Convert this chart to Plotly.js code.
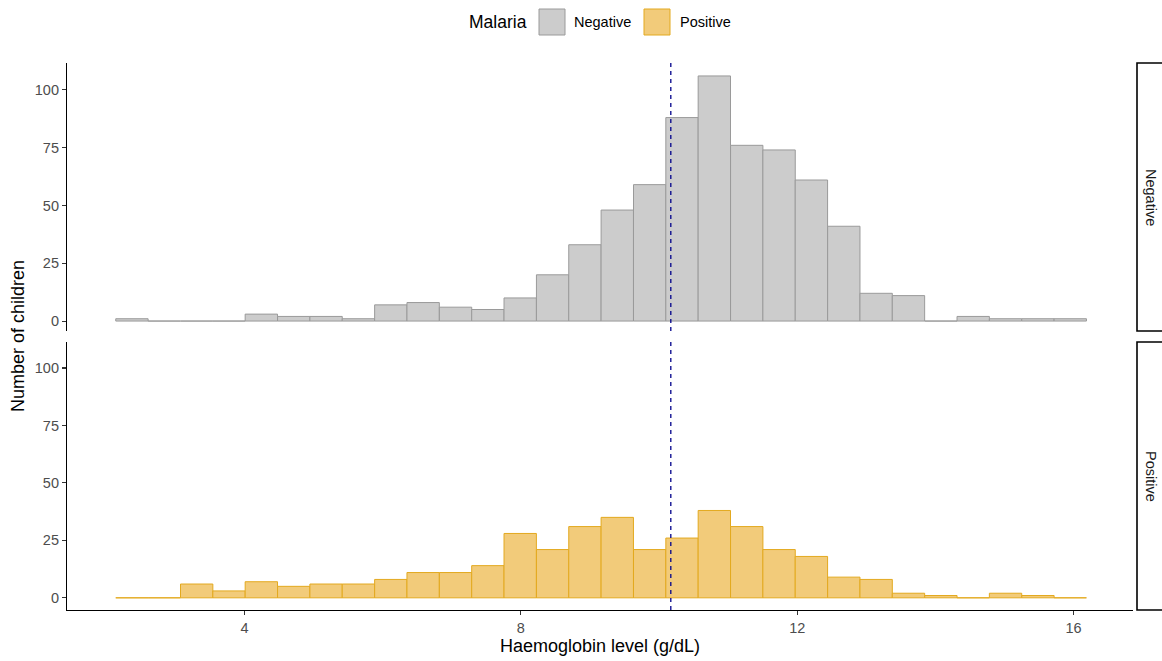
<!DOCTYPE html>
<html>
<head>
<meta charset="utf-8">
<script src="https://cdn.plot.ly/plotly-3.0.1.min.js"></script>
<style>html,body{margin:0;padding:0;background:#fff;}#chart{width:1162px;height:661px;}</style>
</head>
<body>
<div id="chart"></div>
<script>
// Histogram bins (30 bins, shared by both facets)
var binCenters = [2.370, 2.838, 3.307, 3.775, 4.243, 4.712, 5.180, 5.648, 6.117, 6.585,
                  7.054, 7.522, 7.990, 8.459, 8.927, 9.395, 9.864, 10.332, 10.800, 11.269,
                  11.737, 12.205, 12.674, 13.142, 13.610, 14.079, 14.547, 15.015, 15.484, 15.952];
var binWidth = 0.4683;

// Number of children per bin
var negativeCounts = [1, 0, 0, 0, 3, 2, 2, 1, 7, 8,
                      6, 5, 10, 20, 33, 48, 59, 88, 106, 76,
                      74, 61, 41, 12, 11, 0, 2, 1, 1, 1];
var positiveCounts = [0, 0, 6, 3, 7, 5, 6, 6, 8, 11,
                      11, 14, 28, 21, 31, 35, 21, 26, 38, 31,
                      21, 18, 9, 8, 2, 1, 0, 2, 1, 0];

var meanHb = 10.17;
var yTicks = [0, 25, 50, 75, 100];
var xTicks = [4, 8, 12, 16];
var groups = ["Negative", "Positive"];

var FONT = "Liberation Sans, Arial, sans-serif";
var negFill = "#CCCCCC", negLine = "#9A9A9A";
var posFill = "#F2CB7A", posLine = "#E3A91F";

var traces = [
  {type: "bar", name: groups[0], x: binCenters, y: negativeCounts, width: binWidth,
   xaxis: "x2", yaxis: "y2",
   marker: {color: negFill, line: {color: negLine, width: 1}}, showlegend: false},
  {type: "bar", name: groups[1], x: binCenters, y: positiveCounts, width: binWidth,
   xaxis: "x", yaxis: "y",
   marker: {color: posFill, line: {color: posLine, width: 1}}, showlegend: false}
];

// plot area 67..1133 (x), 63..610 (y)
var L = 67, R = 1133, T = 63, B = 610;
var W = R - L, H = B - T;
function px(v){ return (v - L) / W; }
function py(v){ return (B - v) / H; }

var xRange = [1.43, 16.86];

var yaxisCommon = {
  tickvals: yTicks, ticktext: yTicks.map(String),
  showgrid: false, zeroline: false, showline: true, linecolor: "#000", linewidth: 1.1,
  ticks: "outside", ticklen: 4, tickcolor: "#333", tickwidth: 1.1,
  tickfont: {family: FONT, size: 14.5, color: "#4D4D4D"}, fixedrange: true
};

var shapes = [
  // dashed mean line in each panel
  {type: "line", xref: "x", yref: "y domain", x0: meanHb, x1: meanHb, y0: 0, y1: 1,
   line: {color: "#00008B", width: 1.3, dash: "4px,4px"}},
  {type: "line", xref: "x2", yref: "y2 domain", x0: meanHb, x1: meanHb, y0: 0, y1: 1,
   line: {color: "#00008B", width: 1.3, dash: "4px,4px"}},
  // facet strips
  {type: "rect", xref: "paper", yref: "paper", x0: px(1137), x1: px(1166), y0: py(331), y1: py(63),
   line: {color: "#000", width: 1.6}, fillcolor: "#fff"},
  {type: "rect", xref: "paper", yref: "paper", x0: px(1137), x1: px(1166), y0: py(610), y1: py(342),
   line: {color: "#000", width: 1.6}, fillcolor: "#fff"},
  // legend keys
  {type: "rect", xref: "paper", yref: "paper", x0: px(539), x1: px(565), y0: py(35), y1: py(9),
   line: {color: negLine, width: 1}, fillcolor: negFill},
  {type: "rect", xref: "paper", yref: "paper", x0: px(644), x1: px(670), y0: py(35), y1: py(9),
   line: {color: posLine, width: 1}, fillcolor: posFill}
];

var annotations = [
  {text: "Malaria", xref: "paper", yref: "paper", x: px(467), y: py(22), xanchor: "left", yanchor: "middle",
   showarrow: false, font: {family: FONT, size: 17.5, color: "#000"}},
  {text: groups[0], xref: "paper", yref: "paper", x: px(572), y: py(22), xanchor: "left", yanchor: "middle",
   showarrow: false, font: {family: FONT, size: 14.5, color: "#000"}},
  {text: groups[1], xref: "paper", yref: "paper", x: px(678), y: py(22), xanchor: "left", yanchor: "middle",
   showarrow: false, font: {family: FONT, size: 14.5, color: "#000"}},
  {text: groups[0], xref: "paper", yref: "paper", x: px(1151), y: py(197), xanchor: "center", yanchor: "middle",
   textangle: 90, showarrow: false, font: {family: FONT, size: 14.5, color: "#1A1A1A"}},
  {text: groups[1], xref: "paper", yref: "paper", x: px(1151), y: py(476), xanchor: "center", yanchor: "middle",
   textangle: 90, showarrow: false, font: {family: FONT, size: 14.5, color: "#1A1A1A"}},
  {text: "Number of children", xref: "paper", yref: "paper", x: px(18), y: py(336), xanchor: "center", yanchor: "middle",
   textangle: -90, showarrow: false, font: {family: FONT, size: 18, color: "#000"}}
];

var layout = {
  width: 1162, height: 661,
  margin: {l: L, r: 1162 - R, t: T, b: 661 - B, pad: 0},
  paper_bgcolor: "#fff", plot_bgcolor: "#fff",
  bargap: 0, barmode: "overlay",
  showlegend: false,
  xaxis: {
    anchor: "y", range: xRange, tickvals: xTicks, ticktext: xTicks.map(String),
    showgrid: false, zeroline: false, showline: true, linecolor: "#000", linewidth: 1.1,
    ticks: "outside", ticklen: 4, tickcolor: "#333", tickwidth: 1.1,
    tickfont: {family: FONT, size: 14.5, color: "#4D4D4D"},
    title: {text: "Haemoglobin level (g/dL)", font: {family: FONT, size: 18, color: "#000"}, standoff: 4},
    fixedrange: true
  },
  xaxis2: {
    anchor: "y2", matches: "x", range: xRange, showgrid: false, zeroline: false,
    showline: false, ticks: "", showticklabels: false, fixedrange: true
  },
  yaxis: Object.assign({anchor: "x", domain: [0, py(342)], range: [-5.3, 111.3]}, yaxisCommon),
  yaxis2: Object.assign({anchor: "x2", domain: [py(331), 1], range: [-4.3, 111.6]}, yaxisCommon),
  shapes: shapes,
  annotations: annotations
};

Plotly.newPlot("chart", traces, layout, {displayModeBar: false, staticPlot: true});
</script>
</body>
</html>
